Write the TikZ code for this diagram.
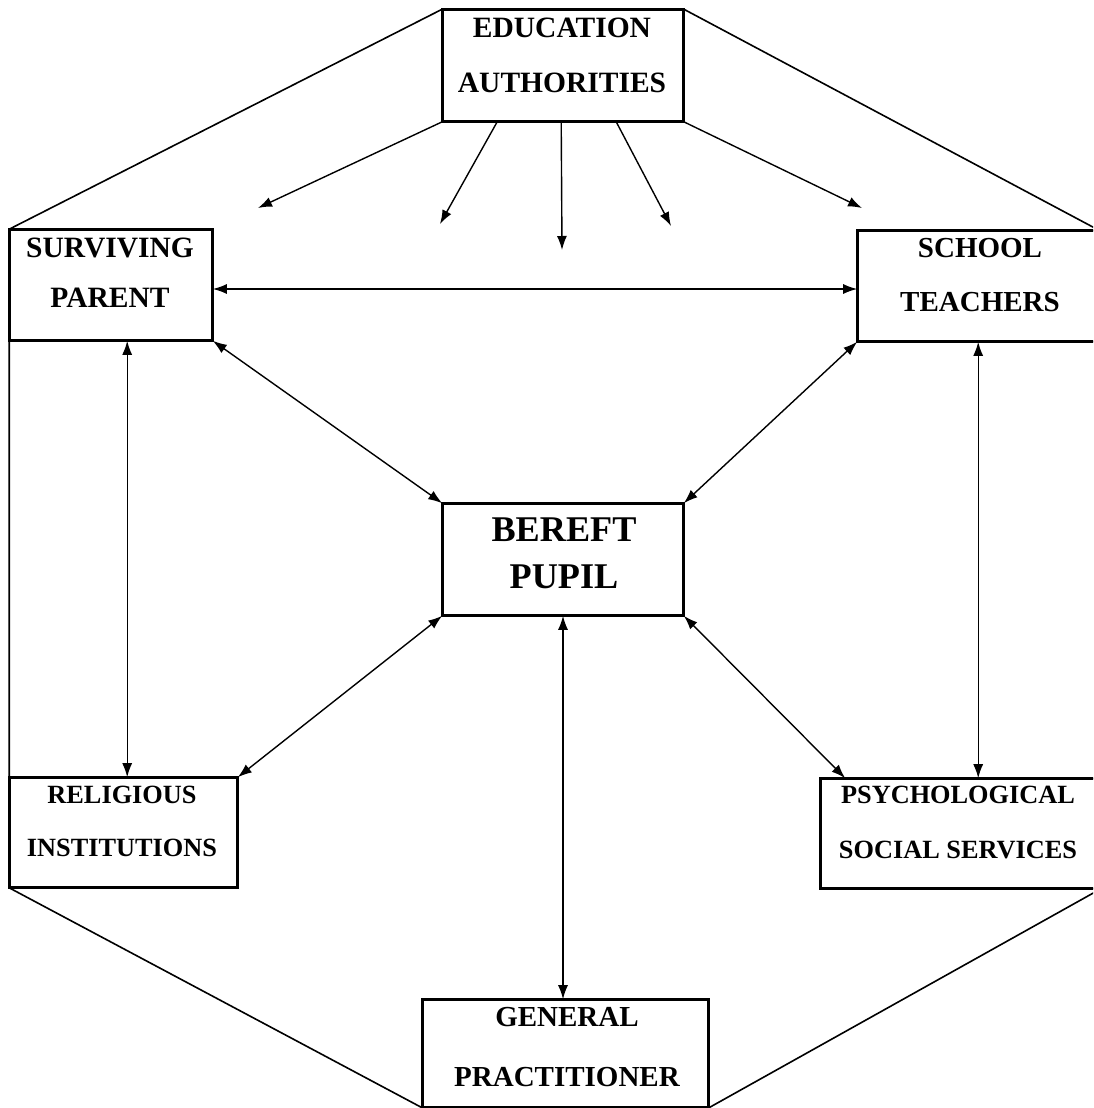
\documentclass[tikz,border=0pt]{standalone}
\usepackage{fontspec}
\setmainfont{Liberation Serif}
\usetikzlibrary{arrows.meta,calc}
\tikzset{
  box/.style={draw, line width=1.6pt, inner sep=0pt, fill=white},
  lbl/.style={align=center, inner sep=0pt},
  link/.style={line width=1.4pt},
  one/.style={link, -{Latex[length=14pt,width=10pt]}},
  two/.style={link, {Latex[length=14pt,width=10pt]}-{Latex[length=14pt,width=10pt]}},
  hex/.style={line width=1.6pt, line join=miter}
}
\begin{document}
\begin{tikzpicture}[x=1pt,y=-1pt]
\useasboundingbox (0,0) rectangle (1093,1108);
\clip (0,0) rectangle (1093,1108);
\fill[white] (0,0) rectangle (1093,1108);

% boxes
\node[box, minimum width=240pt, minimum height=111pt] (ed)  at (563,65.5) {};
\node[box, minimum width=202pt, minimum height=110pt] (sp)  at (111,285) {};
\node[box, minimum width=240pt, minimum height=110pt] (st)  at (978,286) {};
\node[box, minimum width=240pt, minimum height=111pt] (bp)  at (563,559.5) {};
\node[box, minimum width=227pt, minimum height=109pt] (ri)  at (123.5,832.5) {};
\node[box, minimum width=279pt, minimum height=109pt] (pss) at (960.5,833.5) {};
\node[box, minimum width=285pt, minimum height=107pt] (gp)  at (565.5,1053.5) {};

% outer hexagon
\draw[hex] (ed.north west) -- (sp.north west) -- (ri.south west) -- (gp.south west)
  -- (gp.south east) -- (pss.south east) -- (st.north east) -- (ed.north east);

% redraw boxes on top
\foreach \n in {ed,sp,st,bp,ri,pss,gp}{
  \draw[line width=1.6pt] (\n.south west) rectangle (\n.north east);
}

% labels
\node[lbl, font=\fontsize{29.5}{55}\selectfont\bfseries] (edt) at (562,55.5) {EDUCATION\\AUTHORITIES};
\node[lbl, font=\fontsize{29.5}{50}\selectfont\bfseries] (spt) at (110,273) {SURVIVING\\PARENT};
\node[lbl, font=\fontsize{29}{54}\selectfont\bfseries] (stt) at (980,275) {SCHOOL\\TEACHERS};
\node[lbl, font=\fontsize{36.2}{47}\selectfont\bfseries] (bpt) at (564,553.5) {BEREFT\\PUPIL};
\node[lbl, font=\fontsize{26.3}{53}\selectfont\bfseries] (rit) at (122,821.5) {RELIGIOUS\\INSTITUTIONS};
\node[lbl, font=\fontsize{26.3}{55}\selectfont\bfseries] (psst) at (958,822.5) {PSYCHOLOGICAL\\SOCIAL SERVICES};
\node[lbl, font=\fontsize{29}{60}\selectfont\bfseries] (gpt) at (567,1047) {GENERAL\\PRACTITIONER};

% free ends of the authority arrows
\coordinate (e1) at (258,208);
\coordinate (e2) at (440,224);
\coordinate (e3) at (562,250);
\coordinate (e4) at (671,226);
\coordinate (e5) at (862,208);

\draw[one] (ed.south west) -- (e1);
\draw[one] ($(ed.south west)+(55,0)$) -- (e2);
\draw[one] ($(ed.south west)+(119,0)$) -- (e3);
\draw[one] ($(ed.south west)+(174,0)$) -- (e4);
\draw[one] (ed.south east) -- (e5);

% two-way links
\draw[two] ([yshift=-4pt]sp.east) -- ([yshift=-3pt]st.west);
\draw[two] ($(sp.south west)+(118,0)$) -- ($(ri.north west)+(118,0)$);
\draw[two] ($(st.south west)+(121,0)$) -- ($(pss.north west)+(158,0)$);
\draw[two] (sp.south east) -- (bp.north west);
\draw[two] (st.south west) -- (bp.north east);
\draw[two] (bp.south west) -- (ri.north east);
\draw[two] (bp.south east) -- ($(pss.north west)+(25,0)$);
\draw[two] (bp.south) -- (bp.south |- gp.north);
\end{tikzpicture}
\end{document}
